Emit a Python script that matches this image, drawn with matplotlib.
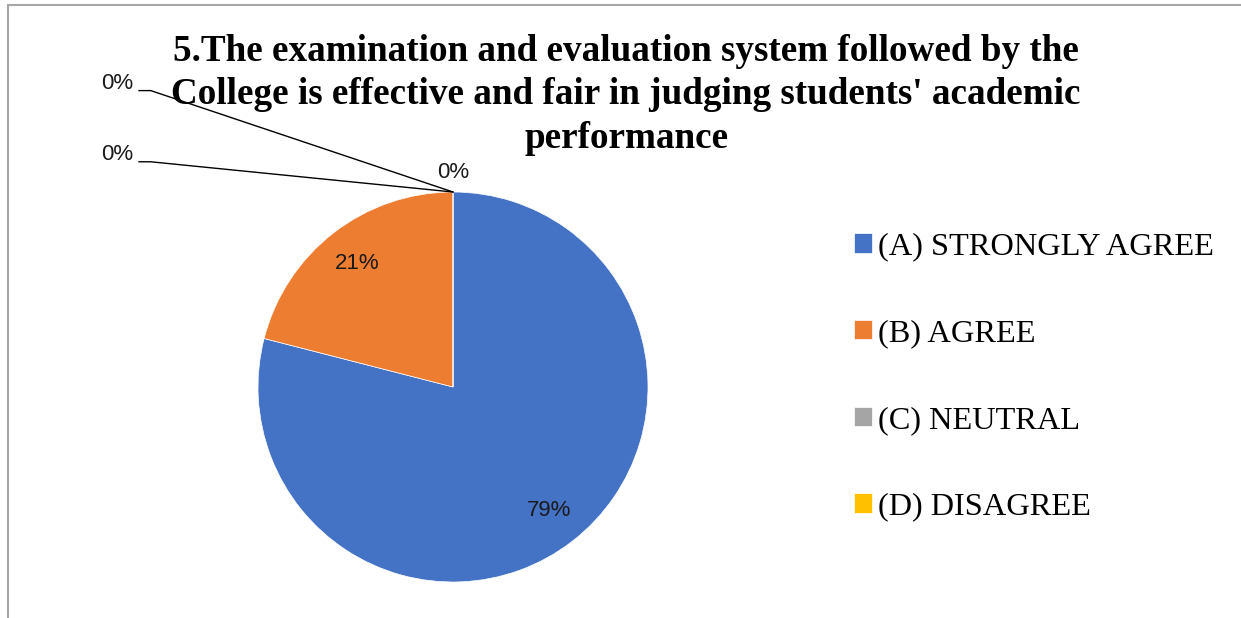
import matplotlib.pyplot as plt
from matplotlib.patches import Rectangle
import numpy as np

title = "5.The examination and evaluation system followed by the\nCollege is effective and fair in judging students' academic\nperformance"
categories = ["(A) STRONGLY AGREE", "(B) AGREE", "(C) NEUTRAL", "(D) DISAGREE"]
values = [79, 21, 0, 0]
colors = ["#4472C4", "#ED7D31", "#A5A5A5", "#FFC000"]

W, H = 1241, 618
fig = plt.figure(figsize=(W / 100, H / 100), dpi=100)

# grey chart border (only top and left are visible in the crop)
fig.patches.append(Rectangle((8 / W, -0.1), 1.2, 1.1 - 5 / H, transform=fig.transFigure,
                             fill=False, edgecolor="#A6A6A6", linewidth=1.5))

# pie centre (453, 387) px, radius 195 px
cx, cy, r = 453, 387, 195
ax = fig.add_axes([(cx - r) / W, (H - cy - r) / H, 2 * r / W, 2 * r / H])

wedges, _ = ax.pie(values, colors=colors, startangle=90, counterclock=False,
                   radius=1, wedgeprops=dict(edgecolor="white", linewidth=0.5))
ax.set_xlim(-1, 1)
ax.set_ylim(-1, 1)
ax.set_aspect("equal")
ax.axis("off")

lab_font = dict(family="Liberation Sans", fontsize=16, color="#1a1a1a")

# labels for non-empty slices at 0.8 of the radius
for w, v in zip(wedges, values):
    if v == 0:
        continue
    ang = np.deg2rad((w.theta1 + w.theta2) / 2)
    ax.text(0.8 * np.cos(ang), 0.8 * np.sin(ang), f"{v}%", ha="center", va="center", **lab_font)

# empty slices sit at the top of the pie, labels pulled out with leader lines
ta = np.deg2rad(wedges[2].theta1)
tip = (np.cos(ta), np.sin(ta))
zero_pos = [(-1.64, 1.555), (-1.64, 1.19)]
for (tx, ty), v in zip(zero_pos, values[2:]):
    ax.text(tx, ty, f"{v}%", ha="right", va="center", **lab_font)
    ax.plot([tx + 0.03, tx + 0.09, tip[0]], [ty - 0.035, ty - 0.035, tip[1]],
            color="black", lw=1, clip_on=False)
ax.text(0, 1.1, f"{values[3]}%", ha="center", va="center", **lab_font)

fig.text(0.5045, 1 - 95 / H, title, ha="center", va="center", family="Liberation Serif",
         fontweight="bold", fontsize=26.7, linespacing=1.33)

leg = ax.legend(wedges, categories, loc="center left", bbox_to_anchor=(854 / W, 1 - 377 / H),
                bbox_transform=fig.transFigure, frameon=False, borderpad=0, borderaxespad=0,
                handlelength=0.55, handleheight=0.55, handletextpad=0.2, labelspacing=1.78,
                prop=dict(family="Liberation Serif", size=23.3))

fig.savefig("out.png", dpi=100)
